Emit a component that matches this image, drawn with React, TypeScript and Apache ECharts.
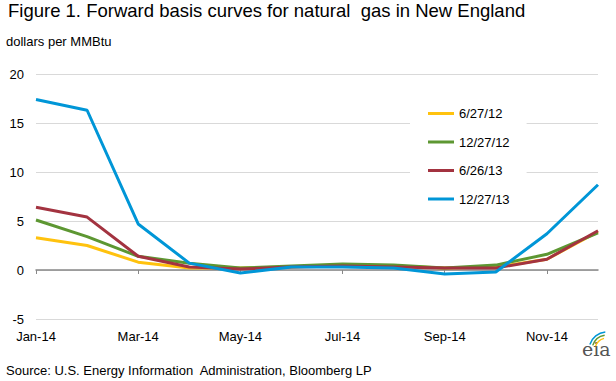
import React, { useEffect, useRef } from "react";
import * as echarts from "echarts";

const months = ["Jan-14", "Feb-14", "Mar-14", "Apr-14", "May-14", "Jun-14", "Jul-14", "Aug-14", "Sep-14", "Oct-14", "Nov-14", "Dec-14"];
const s_062712 = [3.3, 2.5, 0.8, 0.2, 0.2, 0.3, 0.5, 0.4, 0.2, 0.3, 1.1, 3.9];
const s_122712 = [5.1, 3.4, 1.4, 0.7, 0.2, 0.4, 0.6, 0.5, 0.2, 0.5, 1.6, 3.8];
const s_062613 = [6.4, 5.4, 1.4, 0.3, 0.1, 0.3, 0.4, 0.3, 0.2, 0.2, 1.1, 4.0];
const s_122713 = [17.4, 16.3, 4.7, 0.7, -0.3, 0.3, 0.3, 0.2, -0.4, -0.2, 3.7, 8.7];
const seriesNames = ["6/27/12", "12/27/12", "6/26/13", "12/27/13"];
const colors = ["#FFC20E", "#5D9732", "#A33340", "#0096D7"];
const FONT = "Liberation Sans, Arial, sans-serif";

export default function App() {
  const ref = useRef<HTMLDivElement>(null);
  useEffect(() => {
    if (!ref.current) return;
    const chart = echarts.init(ref.current, undefined, { renderer: "svg" });
    const data = [s_062712, s_122712, s_062613, s_122713];
    chart.setOption({
      animation: false,
      backgroundColor: "#ffffff",
      textStyle: { fontFamily: FONT },
      grid: { left: 36, right: 18, top: 74, bottom: 62, containLabel: false },
      legend: {
        orient: "vertical",
        left: 410,
        top: 99,
        padding: [8, 17, 8, 18],
        backgroundColor: "#ffffff",
        icon: "rect",
        itemWidth: 26,
        itemHeight: 3,
        itemGap: 15.5,
        textStyle: { fontSize: 13, color: "#000", fontFamily: FONT },
        data: seriesNames,
      },
      xAxis: [
        {
          type: "category",
          data: months,
          boundaryGap: false,
          position: "bottom",
          axisLine: { show: false, onZero: false },
          axisTick: { show: false },
          axisLabel: { interval: 1, fontSize: 13, color: "#000", margin: 11, fontFamily: FONT },
          splitLine: { show: false },
        },
        {
          type: "category",
          data: months,
          boundaryGap: false,
          position: "bottom",
          axisLine: { show: true, onZero: true, lineStyle: { color: "#888888", width: 1.5 } },
          axisTick: { show: true, interval: 1, length: 4, lineStyle: { color: "#888888" } },
          axisLabel: { show: false },
          splitLine: { show: false },
        },
      ],
      yAxis: {
        type: "value",
        min: -5,
        max: 20,
        interval: 5,
        axisLine: { show: false },
        axisTick: { show: false },
        axisLabel: { fontSize: 13, color: "#000", margin: 12, fontFamily: FONT },
        splitLine: { lineStyle: { color: "#D9D9D9", width: 1 } },
      },
      series: seriesNames.map((name, i) => ({
        name,
        type: "line",
        xAxisIndex: 0,
        data: data[i],
        symbol: "none",
        color: colors[i],
        lineStyle: { width: 3, color: colors[i] },
        z: 3 + i,
      })),
      graphic: [
        {
          type: "text",
          left: 8,
          top: 1,
          style: { text: "Figure 1. Forward basis curves for natural  gas in New England", font: `18.5px ${FONT}`, fill: "#000" },
        },
        {
          type: "text",
          left: 6,
          top: 35,
          style: { text: "dollars per MMBtu", font: `13px ${FONT}`, fill: "#000" },
        },
        {
          type: "text",
          left: 6,
          top: 364,
          style: { text: "Source: U.S. Energy Information  Administration, Bloomberg LP", font: `13px ${FONT}`, fill: "#000" },
        },
        {
          type: "text",
          left: 582,
          top: 339,
          style: { text: "eia", font: `19px DejaVu Serif, serif`, fill: "#555" },
        },
        { type: "arc", shape: { cx: 607, cy: 350, r: 12, startAngle: Math.PI * 1.1, endAngle: Math.PI * 1.42 }, style: { stroke: "#FFC20E", lineWidth: 1.5, fill: "none" } },
        { type: "arc", shape: { cx: 607, cy: 350, r: 15, startAngle: Math.PI * 1.1, endAngle: Math.PI * 1.45 }, style: { stroke: "#5D9732", lineWidth: 1.5, fill: "none" } },
        { type: "arc", shape: { cx: 607, cy: 350, r: 18, startAngle: Math.PI * 1.1, endAngle: Math.PI * 1.47 }, style: { stroke: "#0096D7", lineWidth: 1.5, fill: "none" } },
      ],
    });
    return () => chart.dispose();
  }, []);
  return <div ref={ref} style={{ width: 616, height: 381, position: "absolute", left: 0, top: 0 }} />;
}
